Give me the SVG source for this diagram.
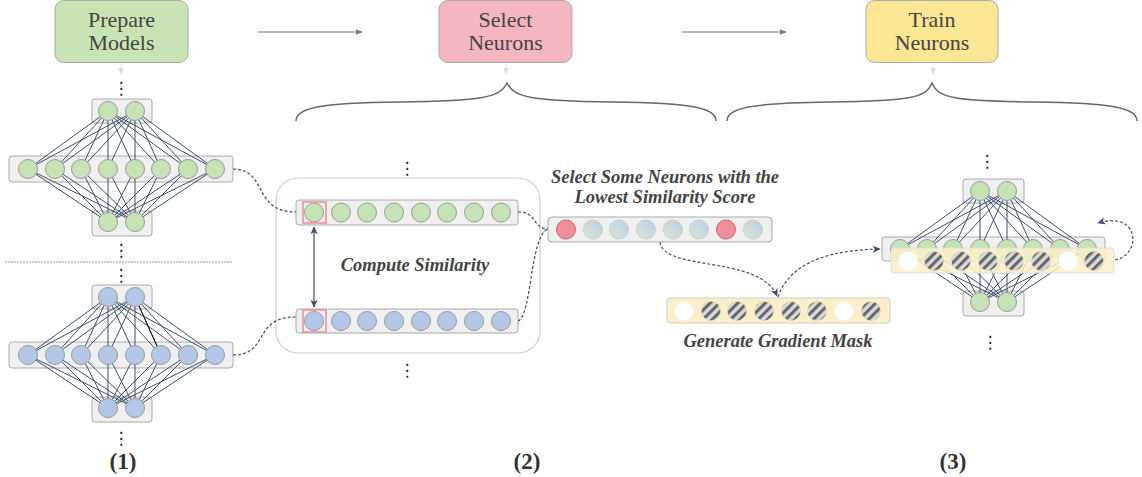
<svg xmlns="http://www.w3.org/2000/svg" width="1142" height="477" viewBox="0 0 1142 477">
<style>
.step{stroke:#aaa;stroke-width:1}
.steptxt{font-family:"Liberation Serif","Times New Roman",serif;font-size:22px;fill:#444;text-anchor:middle}
.lbl{font-family:"Liberation Serif",serif;font-size:18.5px;font-weight:bold;font-style:italic;fill:#444;text-anchor:middle}
.num{font-family:"Liberation Serif",serif;font-size:23px;font-weight:bold;fill:#333;text-anchor:middle}
.dots{font-family:"DejaVu Sans",sans-serif;font-size:17px;fill:#222;text-anchor:middle}
.box{fill:#f0f0f0;stroke:#aaa;stroke-width:1}
.ybox{fill:#fdf0c8;stroke:#ccc;stroke-width:1}
.g{fill:#c5e3b5;stroke:#999;stroke-width:1}
.b{fill:#b5c7e8;stroke:#999;stroke-width:1}
.r{fill:#ef8f9c;stroke:#e0566a;stroke-width:1}
.s{fill:url(#sg);stroke:#ccc;stroke-width:1}
.w{fill:#fff;stroke:none}
.h{fill:url(#hatch);stroke:#ccc;stroke-width:0.5}
.nl line{stroke:#3d4f6e;stroke-width:1}
.dash{fill:none;stroke:#3d4f6e;stroke-width:1.2;stroke-dasharray:3 2}
.brace{fill:none;stroke:#666;stroke-width:1.5}
.hl{fill:none;stroke:#f08a9a;stroke-width:1.5}
</style>
<defs>
<linearGradient id="sg" x1="0" y1="1" x2="1" y2="0">
<stop offset="0" stop-color="#d8e9d2"/>
<stop offset="1" stop-color="#bccbea"/>
</linearGradient>
<pattern id="hatch" width="6.5" height="6.5" patternUnits="userSpaceOnUse" patternTransform="rotate(45)">
<rect width="6.5" height="6.5" fill="#d9d9d9"/>
<rect width="3" height="6.5" fill="#666"/>
</pattern>
<marker id="ag" viewBox="0 0 10 10" refX="9" refY="5" markerWidth="7" markerHeight="7" orient="auto-start-reverse" markerUnits="userSpaceOnUse">
<path d="M0,1 L10,5 L0,9 z" fill="#777"/>
</marker>
<marker id="al" viewBox="0 0 10 10" refX="9" refY="5" markerWidth="7" markerHeight="7" orient="auto" markerUnits="userSpaceOnUse">
<path d="M0,1 L10,5 L0,9 z" fill="#ddd"/>
</marker>
<marker id="ad" viewBox="0 0 10 10" refX="9" refY="5" markerWidth="8" markerHeight="8" orient="auto-start-reverse" markerUnits="userSpaceOnUse">
<path d="M0,0.5 L10,5 L0,9.5 L2.5,5 z" fill="#3d4f6e"/>
</marker>
<g id="netLines" class="nl">
<line x1="108" y1="111" x2="28" y2="169"/><line x1="108" y1="111" x2="55" y2="169"/><line x1="108" y1="111" x2="81" y2="169"/><line x1="108" y1="111" x2="108" y2="169"/>
<line x1="108" y1="111" x2="135" y2="169"/><line x1="108" y1="111" x2="161" y2="169"/><line x1="108" y1="111" x2="188" y2="169"/><line x1="108" y1="111" x2="215" y2="169"/>
<line x1="135" y1="111" x2="28" y2="169"/><line x1="135" y1="111" x2="55" y2="169"/><line x1="135" y1="111" x2="81" y2="169"/><line x1="135" y1="111" x2="108" y2="169"/>
<line x1="135" y1="111" x2="135" y2="169"/><line x1="135" y1="111" x2="161" y2="169"/><line x1="135" y1="111" x2="188" y2="169"/><line x1="135" y1="111" x2="215" y2="169"/>
<line x1="108" y1="222" x2="28" y2="169"/><line x1="108" y1="222" x2="55" y2="169"/><line x1="108" y1="222" x2="81" y2="169"/><line x1="108" y1="222" x2="108" y2="169"/>
<line x1="108" y1="222" x2="135" y2="169"/><line x1="108" y1="222" x2="161" y2="169"/><line x1="108" y1="222" x2="188" y2="169"/><line x1="108" y1="222" x2="215" y2="169"/>
<line x1="135" y1="222" x2="28" y2="169"/><line x1="135" y1="222" x2="55" y2="169"/><line x1="135" y1="222" x2="81" y2="169"/><line x1="135" y1="222" x2="108" y2="169"/>
<line x1="135" y1="222" x2="135" y2="169"/><line x1="135" y1="222" x2="161" y2="169"/><line x1="135" y1="222" x2="188" y2="169"/><line x1="135" y1="222" x2="215" y2="169"/>
</g>
</defs>
<rect width="1142" height="477" fill="#fff"/>

<!-- step boxes -->
<g id="prepare-models">
<rect class="step" x="55" y="0.5" width="133" height="62" rx="9" fill="#c9e4b4"/>
<text class="steptxt" x="121.5" y="27">Prepare</text>
<text class="steptxt" x="121.5" y="50">Models</text>
</g>
<g id="select-neurons">
<rect class="step" x="439" y="0.5" width="133" height="62" rx="9" fill="#f4b6c0"/>
<text class="steptxt" x="505.5" y="27">Select</text>
<text class="steptxt" x="505.5" y="50">Neurons</text>
</g>
<g id="train-neurons">
<rect class="step" x="866" y="0.5" width="132" height="62" rx="9" fill="#fde694"/>
<text class="steptxt" x="932" y="27">Train</text>
<text class="steptxt" x="932" y="50">Neurons</text>
</g>

<!-- braces -->
<g id="braces">
<path class="brace" d="M296,121 C296,108 318,103 400,102 C480,101 500,98 507,83 C514,98 534,101 612,102 C694,103 716,108 716,121"/>
<path class="brace" d="M727,121 C727,108 750,103 830,102 C910,101 926,98 932,83 C938,98 954,101 1034,102 C1114,103 1137,108 1137,121"/>
</g>

<!-- network 1 -->
<g id="net1">
<text class="dots" x="121" y="94">⋮</text>
<rect class="box" x="92" y="99" width="60" height="24" rx="3"/>
<rect class="box" x="9" y="156" width="224" height="26" rx="3"/>
<rect class="box" x="92" y="211" width="60" height="25" rx="3"/>
<use href="#netLines"/>
<circle class="g" cx="108" cy="111" r="9.5"/><circle class="g" cx="135" cy="111" r="9.5"/>
<circle class="g" cx="28" cy="169" r="9.5"/><circle class="g" cx="55" cy="169" r="9.5"/><circle class="g" cx="81" cy="169" r="9.5"/><circle class="g" cx="108" cy="169" r="9.5"/>
<circle class="g" cx="135" cy="169" r="9.5"/><circle class="g" cx="161" cy="169" r="9.5"/><circle class="g" cx="188" cy="169" r="9.5"/><circle class="g" cx="215" cy="169" r="9.5"/>
<circle class="g" cx="108" cy="222" r="9.5"/><circle class="g" cx="135" cy="222" r="9.5"/>
<text class="dots" x="121" y="256">⋮</text>
</g>

<line x1="5" y1="262" x2="233" y2="262" stroke="#999" stroke-width="1" stroke-dasharray="2 1"/>

<!-- network 2 -->
<g id="net2">
<text class="dots" x="121" y="281">⋮</text>
<g transform="translate(0,186)">
<rect class="box" x="92" y="99" width="60" height="24" rx="3"/>
<rect class="box" x="9" y="156" width="224" height="26" rx="3"/>
<rect class="box" x="92" y="211" width="60" height="25" rx="3"/>
<use href="#netLines"/>
<line x1="135" y1="111" x2="161" y2="169" stroke="#111" stroke-width="1"/>
<circle class="b" cx="108" cy="111" r="9.5"/><circle class="b" cx="135" cy="111" r="9.5"/>
<circle class="b" cx="28" cy="169" r="9.5"/><circle class="b" cx="55" cy="169" r="9.5"/><circle class="b" cx="81" cy="169" r="9.5"/><circle class="b" cx="108" cy="169" r="9.5"/>
<circle class="b" cx="135" cy="169" r="9.5"/><circle class="b" cx="161" cy="169" r="9.5"/><circle class="b" cx="188" cy="169" r="9.5"/><circle class="b" cx="215" cy="169" r="9.5"/>
<circle class="b" cx="108" cy="222" r="9.5"/><circle class="b" cx="135" cy="222" r="9.5"/>
</g>
<text class="dots" x="121" y="444">⋮</text>
</g>

<!-- compute similarity -->
<g id="compute-similarity">
<text class="dots" x="407" y="174">⋮</text>
<rect x="276" y="178" width="264" height="175" rx="22" fill="none" stroke="#ccc" stroke-width="1.2"/>
<rect class="box" x="296" y="200" width="222" height="25" rx="3"/>
<circle class="g" cx="314" cy="212.5" r="9.5"/><circle class="g" cx="341" cy="212.5" r="9.5"/><circle class="g" cx="367" cy="212.5" r="9.5"/><circle class="g" cx="394" cy="212.5" r="9.5"/>
<circle class="g" cx="421" cy="212.5" r="9.5"/><circle class="g" cx="447" cy="212.5" r="9.5"/><circle class="g" cx="474" cy="212.5" r="9.5"/><circle class="g" cx="501" cy="212.5" r="9.5"/>
<rect class="hl" x="303" y="202" width="23" height="21"/>
<rect class="box" x="296" y="309" width="222" height="24" rx="3"/>
<circle class="b" cx="314" cy="321" r="9.5"/><circle class="b" cx="341" cy="321" r="9.5"/><circle class="b" cx="367" cy="321" r="9.5"/><circle class="b" cx="394" cy="321" r="9.5"/>
<circle class="b" cx="421" cy="321" r="9.5"/><circle class="b" cx="447" cy="321" r="9.5"/><circle class="b" cx="474" cy="321" r="9.5"/><circle class="b" cx="501" cy="321" r="9.5"/>
<rect class="hl" x="303" y="310" width="23" height="22"/>
<text class="lbl" x="415" y="271">Compute Similarity</text>
<text class="dots" x="407" y="376">⋮</text>
</g>

<!-- selected neurons -->
<g id="selected-neurons">
<text class="lbl" x="665" y="183">Select Some Neurons with the</text>
<text class="lbl" x="665" y="203">Lowest Similarity Score</text>
<rect class="box" x="548" y="217" width="224" height="25" rx="4"/>
<circle class="r" cx="566" cy="229.5" r="9.5"/><circle class="s" cx="593" cy="229.5" r="9.5"/><circle class="s" cx="619" cy="229.5" r="9.5"/><circle class="s" cx="646" cy="229.5" r="9.5"/>
<circle class="s" cx="673" cy="229.5" r="9.5"/><circle class="s" cx="699" cy="229.5" r="9.5"/><circle class="r" cx="726" cy="229.5" r="9.5"/><circle class="s" cx="753" cy="229.5" r="9.5"/>
</g>

<!-- gradient mask -->
<g id="gradient-mask">
<rect class="ybox" x="667" y="298" width="223" height="25" rx="3"/>
<circle class="w" cx="684" cy="311" r="9.5"/><circle class="h" cx="711" cy="311" r="9.5"/><circle class="h" cx="737" cy="311" r="9.5"/><circle class="h" cx="764" cy="311" r="9.5"/>
<circle class="h" cx="791" cy="311" r="9.5"/><circle class="h" cx="817" cy="311" r="9.5"/><circle class="w" cx="844" cy="311" r="9.5"/><circle class="h" cx="871" cy="311" r="9.5"/>
<text class="lbl" x="778" y="347">Generate Gradient Mask</text>
</g>

<!-- network 3 -->
<g id="net3">
<text class="dots" x="987" y="167">⋮</text>
<g transform="translate(872,80)">
<rect class="box" x="91" y="99" width="61" height="24" rx="3"/>
<rect class="box" x="10" y="157" width="223" height="24" rx="3"/>
<rect class="box" x="91" y="211" width="61" height="25" rx="3"/>
<use href="#netLines"/>
<circle class="g" cx="108" cy="111" r="9.5"/><circle class="g" cx="135" cy="111" r="9.5"/>
<circle class="g" cx="28" cy="169" r="9.5"/><circle class="g" cx="55" cy="169" r="9.5"/><circle class="g" cx="81" cy="169" r="9.5"/><circle class="g" cx="108" cy="169" r="9.5"/>
<circle class="g" cx="135" cy="169" r="9.5"/><circle class="g" cx="161" cy="169" r="9.5"/><circle class="g" cx="188" cy="169" r="9.5"/><circle class="g" cx="215" cy="169" r="9.5"/>
<circle class="g" cx="108" cy="222" r="9.5"/><circle class="g" cx="135" cy="222" r="9.5"/>
</g>
<rect x="891" y="248" width="223" height="25" rx="3" fill="#fdf0c8" fill-opacity="0.85" stroke="#ddd" stroke-width="1"/>
<circle class="w" cx="908" cy="261" r="9.5"/><circle class="h" cx="934" cy="261" r="9.5"/><circle class="h" cx="961" cy="261" r="9.5"/><circle class="h" cx="988" cy="261" r="9.5"/>
<circle class="h" cx="1014" cy="261" r="9.5"/><circle class="h" cx="1041" cy="261" r="9.5"/><circle class="w" cx="1068" cy="261" r="9.5"/><circle class="h" cx="1094" cy="261" r="9.5"/>
<text class="dots" x="990" y="348">⋮</text>
</g>

<!-- connectors -->
<g id="connectors">
<line x1="258" y1="32" x2="362" y2="32" stroke="#777" stroke-width="1.2" marker-end="url(#ag)"/>
<line x1="682" y1="32" x2="786" y2="32" stroke="#777" stroke-width="1.2" marker-end="url(#ag)"/>
<line x1="121" y1="64" x2="121" y2="74" stroke="#e2e2e2" stroke-width="1" marker-end="url(#al)"/>
<line x1="506" y1="64" x2="506" y2="74" stroke="#e2e2e2" stroke-width="1" marker-end="url(#al)"/>
<line x1="933" y1="64" x2="933" y2="74" stroke="#e2e2e2" stroke-width="1" marker-end="url(#al)"/>
<path class="dash" d="M233,169 C268,169 252,212 296,212"/>
<path class="dash" d="M233,355 C270,355 252,317 296,317"/>
<path class="dash" d="M518,212 C538,212 532,229 548,229"/>
<path class="dash" d="M518,321 C532,316 530,235 548,229"/>
<line x1="314" y1="227" x2="314" y2="307" stroke="#3d4f6e" stroke-width="1.2" marker-start="url(#ad)" marker-end="url(#ad)"/>
<path class="dash" d="M660,242 C664,272 760,255 777,296" marker-end="url(#ad)"/>
<path class="dash" d="M778,297 C790,262 830,250 880,249" marker-end="url(#ad)"/>
<path class="dash" d="M1115,260 C1142,255 1140,210 1098,223" marker-end="url(#ad)"/>
</g>

<text class="num" x="123" y="469">(1)</text>
<text class="num" x="527" y="469">(2)</text>
<text class="num" x="953" y="469">(3)</text>
</svg>
